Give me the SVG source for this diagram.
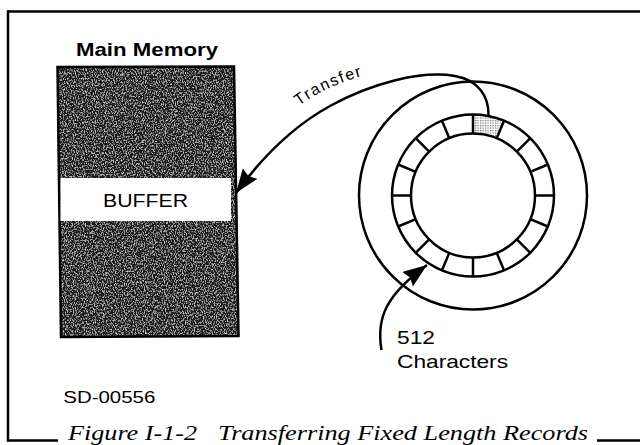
<svg xmlns="http://www.w3.org/2000/svg" width="640" height="445" viewBox="0 0 640 445">
  <defs>
    <style>
      .ln { fill: none; stroke: #000; stroke-width: 2.5; }
      .frame { fill: none; stroke: #000; stroke-width: 2.5; }
      .sans { font-family: "Liberation Sans", Arial, sans-serif; fill: #000; }
      .cap { font-family: "Liberation Serif", "Times New Roman", serif; font-style: italic; fill: #000; }
    </style>
    <filter id="grain" x="0" y="0" width="1" height="1">
      <feTurbulence type="fractalNoise" baseFrequency="0.9 0.55" numOctaves="3" seed="7" result="n"/>
      <feColorMatrix in="n" type="matrix" values="0 0 0 0 0.6  0 0 0 0 0.6  0 0 0 0 0.6  3.2 0 0 0 -1.55" result="specks"/>
      <feComposite in="specks" in2="SourceGraphic" operator="in" result="s2"/>
      <feMerge><feMergeNode in="SourceGraphic"/><feMergeNode in="s2"/></feMerge>
    </filter>
    <pattern id="stipple" width="2.5" height="2.5" patternUnits="userSpaceOnUse">
      <rect width="2.5" height="2.5" fill="#fff"/>
      <rect width="1.2" height="1.2" fill="#666"/>
    </pattern>
    <marker id="arrow" markerUnits="userSpaceOnUse" markerWidth="30" markerHeight="24" refX="24" refY="9" orient="auto">
      <path d="M0,0 L24,9 L0,18 L3,9 Z" fill="#000"/>
    </marker>
  </defs>

  <g id="frame">
    <line class="frame" x1="7" y1="11.5" x2="640" y2="11.5"/>
    <line class="frame" x1="8" y1="10.5" x2="8" y2="441.5"/>
    <line class="frame" x1="7" y1="440.5" x2="58" y2="440.5"/>
    <line class="frame" x1="597" y1="440.5" x2="640" y2="440.5"/>
  </g>

  <g id="main-memory">
    <text class="sans" x="76" y="56" font-size="18.5" font-weight="bold" textLength="142" lengthAdjust="spacingAndGlyphs">Main Memory</text>
    <path d="M57.5,67 L234,66.5 L238.5,336 L61,337 Z" fill="#1e1e1e" filter="url(#grain)"/>
    <path d="M57.5,67 L234,66.5 L238.5,336 L61,337 Z" fill="none" stroke="#000" stroke-width="2.5"/>
  </g>

  <g id="buffer">
    <rect x="60.5" y="178" width="170.5" height="43" fill="#fff"/>
    <text class="sans" x="103" y="206.7" font-size="18.5" textLength="85" lengthAdjust="spacingAndGlyphs">BUFFER</text>
  </g>

  <g id="disk">
    <circle class="ln" cx="473" cy="195.5" r="114"/>
    <path d="M473,133.5 L473,114.5 A81,81 0 0 1 504,120.7 L496.7,138.2 A62,62 0 0 0 473,133.5 Z" fill="url(#stipple)"/>
    <circle class="ln" cx="473" cy="195.5" r="81"/>
    <circle class="ln" cx="473" cy="195.5" r="62"/>
    <g class="ln">
      <line x1="535" y1="195.5" x2="554" y2="195.5"/>
      <line x1="530.3" y1="219.2" x2="547.8" y2="226.5"/>
      <line x1="516.8" y1="239.3" x2="530.3" y2="252.8"/>
      <line x1="496.7" y1="252.8" x2="504" y2="270.3"/>
      <line x1="473" y1="257.5" x2="473" y2="276.5"/>
      <line x1="449.3" y1="252.8" x2="442" y2="270.3"/>
      <line x1="429.2" y1="239.3" x2="415.7" y2="252.8"/>
      <line x1="415.7" y1="219.2" x2="398.2" y2="226.5"/>
      <line x1="411" y1="195.5" x2="392" y2="195.5"/>
      <line x1="415.7" y1="171.8" x2="398.2" y2="164.5"/>
      <line x1="429.2" y1="151.7" x2="415.7" y2="138.2"/>
      <line x1="449.3" y1="138.2" x2="442" y2="120.7"/>
      <line x1="473" y1="133.5" x2="473" y2="114.5"/>
      <line x1="496.7" y1="138.2" x2="504" y2="120.7"/>
      <line x1="516.8" y1="151.7" x2="530.3" y2="138.2"/>
      <line x1="530.3" y1="171.8" x2="547.8" y2="164.5"/>
    </g>
  </g>

  <g id="connectors">
    <path id="transfer-path" class="ln" d="M488.5,116 C489,96 478,80 455,76 C420,70 370,84 330,106 C290,128 260,160 236,193" marker-end="url(#arrow)"/>
    <path id="chars-path" class="ln" d="M381.5,350 C376,318 386,295 427,265" marker-end="url(#arrow)"/>
  </g>

  <g id="labels">
    <path id="transfer-text-path" d="M299,106 Q328,84 376,72" fill="none"/>
    <text class="sans" font-size="16" letter-spacing="1.6"><textPath href="#transfer-text-path">Transfer</textPath></text>
    <text class="sans" x="397" y="344" font-size="18.5" textLength="38" lengthAdjust="spacingAndGlyphs">512</text>
    <text class="sans" x="397" y="368" font-size="18.5" textLength="111" lengthAdjust="spacingAndGlyphs">Characters</text>
    <text class="sans" x="63.3" y="403.3" font-size="16" textLength="92" lengthAdjust="spacingAndGlyphs">SD-00556</text>
    <text class="cap" x="68" y="440" font-size="22" textLength="129" lengthAdjust="spacingAndGlyphs">Figure I-1-2</text>
    <text class="cap" x="218" y="440" font-size="22" textLength="370" lengthAdjust="spacingAndGlyphs">Transferring Fixed Length Records</text>
  </g>
</svg>
